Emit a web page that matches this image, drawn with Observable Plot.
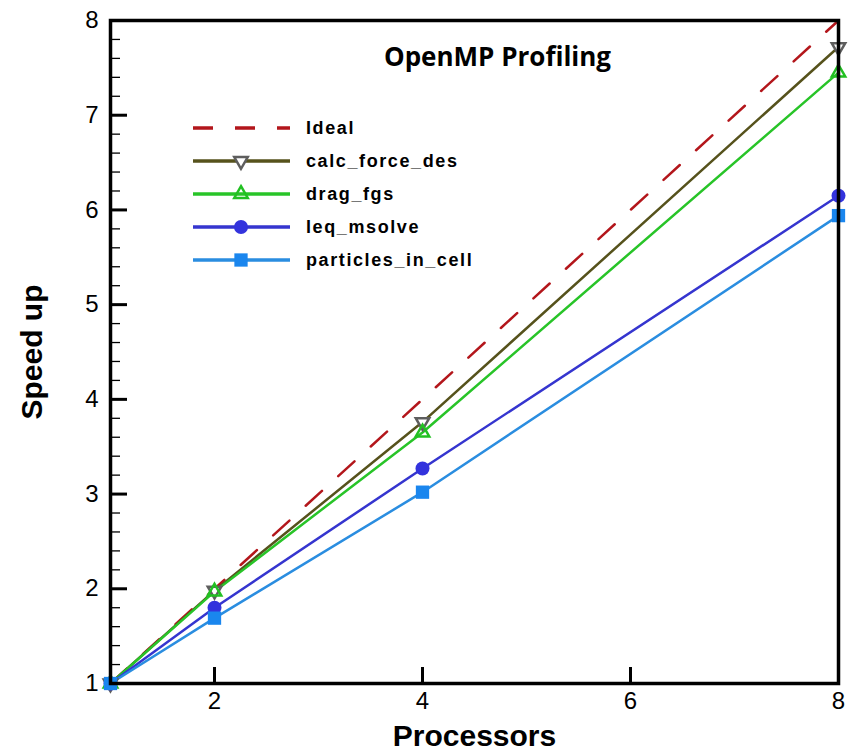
<!DOCTYPE html>
<html>
<head>
<meta charset="utf-8">
<script src="https://cdn.jsdelivr.net/npm/d3@7"></script>
<script src="https://cdn.jsdelivr.net/npm/@observablehq/plot@0.6"></script>
<style>
  html, body { margin: 0; padding: 0; background: #fff; }
  #wrap { position: relative; width: 850px; height: 750px; }
  #wrap svg.overlay { position: absolute; left: 0; top: 0; pointer-events: none; }
</style>
</head>
<body>
<div id="wrap"></div>
<script>
// ---- data ----
const processors = [1, 2, 4, 8];
const ideal = [1, 2, 4, 8];
const calcForceDes = [1, 1.98, 3.76, 7.72];
const dragFgs = [1, 1.97, 3.65, 7.45];
const leqMsolve = [1, 1.80, 3.27, 6.15];
const particlesInCell = [1, 1.69, 3.02, 5.94];
const seriesNames = ["Ideal", "calc_force_des", "drag_fgs", "leq_msolve", "particles_in_cell"];
const xTickLabels = [2, 4, 6, 8];
const xTickMarks = [2, 4, 6];
const yTickLabels = [1, 2, 3, 4, 5, 6, 7, 8];
const yMinorTicks = d3.range(1, 8.001, 0.2).map(v => +v.toFixed(1)).filter(v => !Number.isInteger(v));
const titleText = "OpenMP Profiling";
const xLabel = "Processors";
const yLabel = "Speed up";

// ---- styles ----
const styles = {
  "Ideal": {stroke: "#b3161b", dash: "22,22", symbol: null},
  "calc_force_des": {stroke: "#56521c", symbol: "triangle", rotate: 180, r: 5, dotStroke: "#5e5e5e", fill: "white"},
  "drag_fgs": {stroke: "#28c428", symbol: "triangle", rotate: 0, r: 5, dotStroke: "#22c022", fill: "none"},
  "leq_msolve": {stroke: "#3535cf", symbol: "circle", r: 7, dotFill: "#3333dd"},
  "particles_in_cell": {stroke: "#2a8de0", symbol: "square", r: 7.5, dotFill: "#1a86ee"}
};
const values = [ideal, calcForceDes, dragFgs, leqMsolve, particlesInCell];
const tables = seriesNames.map((name, i) =>
  processors.map((p, j) => ({processors: p, speedup: values[i][j], series: name})));

const W = 850, H = 750;
const M = {top: 20, right: 12, bottom: 67, left: 110};
const plotW = W - M.left - M.right, plotH = H - M.top - M.bottom;
const fontAxis = "'Liberation Sans', Arial, sans-serif";

const marks = [];
// lines
tables.forEach((t, i) => {
  const s = styles[seriesNames[i]];
  marks.push(Plot.line(t, {x: "processors", y: "speedup", stroke: s.stroke, strokeWidth: 2.5,
    strokeDasharray: s.dash || null}));
});
// markers
tables.forEach((t, i) => {
  const s = styles[seriesNames[i]];
  if (!s.symbol) return;
  if (s.dotFill) {
    marks.push(Plot.dot(t, {x: "processors", y: "speedup", symbol: s.symbol, r: s.r, fill: s.dotFill, stroke: "none"}));
  } else {
    marks.push(Plot.dot(t, {x: "processors", y: "speedup", symbol: s.symbol, r: s.r, rotate: s.rotate,
      fill: s.fill, stroke: s.dotStroke, strokeWidth: 2.5}));
  }
});
// ticks (inward)
marks.push(Plot.tickY(yMinorTicks, {y: d => d, insetRight: plotW - 10, stroke: "black", strokeWidth: 1.3}));
marks.push(Plot.tickY(yTickLabels.slice(1, -1), {y: d => d, insetRight: plotW - 17, stroke: "black", strokeWidth: 3}));
marks.push(Plot.tickX(xTickMarks, {x: d => d, insetTop: plotH - 16, stroke: "black", strokeWidth: 3}));
marks.push(Plot.frame({stroke: "black", strokeWidth: 3.5}));
// tick labels
marks.push(Plot.text(yTickLabels, {y: d => d, frameAnchor: "left", dx: -12, textAnchor: "end",
  fontSize: 24, fontFamily: fontAxis, fill: "black"}));
marks.push(Plot.text(xTickLabels, {x: d => d, frameAnchor: "bottom", dy: 25, textAnchor: "middle",
  fontSize: 24, fontFamily: fontAxis, fill: "black"}));
// axis labels
marks.push(Plot.text([xLabel], {frameAnchor: "bottom", dy: 62, textAnchor: "middle", fontSize: 30, fontWeight: "bold",
  fontFamily: fontAxis, fill: "black", letterSpacing: 0.8}));
marks.push(Plot.text([yLabel], {frameAnchor: "left", dx: -78, rotate: -90, textAnchor: "middle", fontSize: 30, fontWeight: "bold",
  fontFamily: fontAxis, fill: "black"}));
// title
marks.push(Plot.text([titleText], {frameAnchor: "top", dx: 23, dy: 27, textAnchor: "middle", fontSize: 26, fontWeight: "bold",
  fontFamily: "'Open Sans', sans-serif", fill: "black"}));

const chart = Plot.plot({
  width: W, height: H,
  marginTop: M.top, marginRight: M.right, marginBottom: M.bottom, marginLeft: M.left,
  x: {domain: [1, 8], axis: null},
  y: {domain: [1, 8], axis: null},
  style: {background: "white", overflow: "visible"},
  marks
});
const wrap = document.getElementById("wrap");
wrap.appendChild(chart);

// ---- legend overlay ----
const legendRowY = [128, 161, 194, 227, 260];
const lg = d3.select(wrap).append("svg").attr("class", "overlay").attr("width", W).attr("height", H);
seriesNames.forEach((name, i) => {
  const s = styles[name];
  const y = legendRowY[i];
  const g = lg.append("g");
  g.append("line").attr("x1", 193).attr("x2", 290).attr("y1", y).attr("y2", y)
    .attr("stroke", s.stroke).attr("stroke-width", 3.5)
    .attr("stroke-dasharray", s.dash ? "20,22" : null);
  if (s.symbol) {
    const sym = {triangle: d3.symbolTriangle, circle: d3.symbolCircle, square: d3.symbolSquare}[s.symbol];
    const path = d3.symbol(sym, Math.PI * s.r * s.r)();
    const p = g.append("path").attr("d", path)
      .attr("transform", `translate(241,${y}) rotate(${s.rotate || 0})`);
    if (s.dotFill) p.attr("fill", s.dotFill);
    else p.attr("fill", s.fill).attr("stroke", s.dotStroke).attr("stroke-width", 2.5);
  }
  g.append("text").attr("x", 306).attr("y", y).attr("dy", "0.35em")
    .attr("font-family", fontAxis).attr("font-weight", "bold").attr("font-size", 18)
    .attr("letter-spacing", 1.6).attr("fill", "black").text(name);
});
</script>
</body>
</html>
